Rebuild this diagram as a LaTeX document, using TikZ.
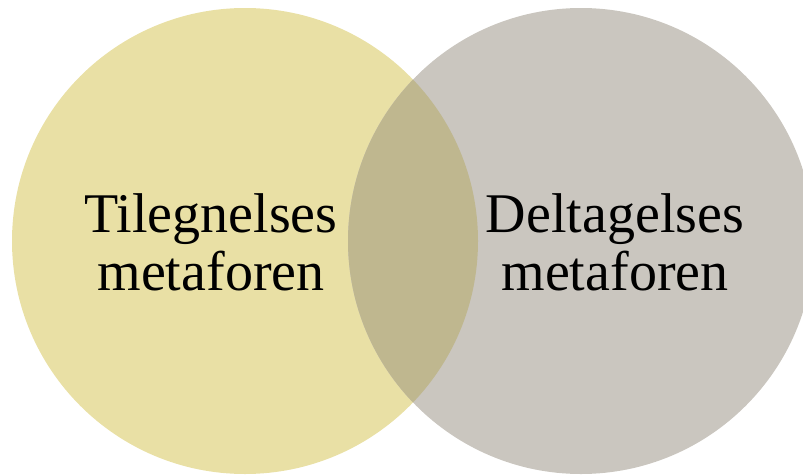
\documentclass[tikz,border=0pt]{standalone}
\usepackage{fontspec}
\setmainfont{Liberation Serif}
\definecolor{leftfill}{HTML}{E9E0A5}
\definecolor{rightfill}{HTML}{CAC6BF}
\definecolor{bothfill}{HTML}{BFB78F}
\tikzset{
  label text/.style={font=\fontsize{56}{58}\selectfont, align=center, text=black, inner sep=0pt}
}
\begin{document}
\begin{tikzpicture}[x=1pt, y=-1pt]
  \useasboundingbox (0,0) rectangle (803,474);
  \begin{scope}
    \clip (0,0) rectangle (803,474);
    \fill[leftfill] (245,241) circle[radius=233];
    \fill[rightfill] (581,241) circle[radius=233];
    \begin{scope}
      \clip (245,241) circle[radius=233];
      \fill[bothfill] (581,241) circle[radius=233];
    \end{scope}
  \end{scope}
  \node[label text] (acq) at (211,242) {Tilegnelses\\metaforen};
  \node[label text] (part) at (615,242) {Deltagelses\\metaforen};
\end{tikzpicture}
\end{document}
